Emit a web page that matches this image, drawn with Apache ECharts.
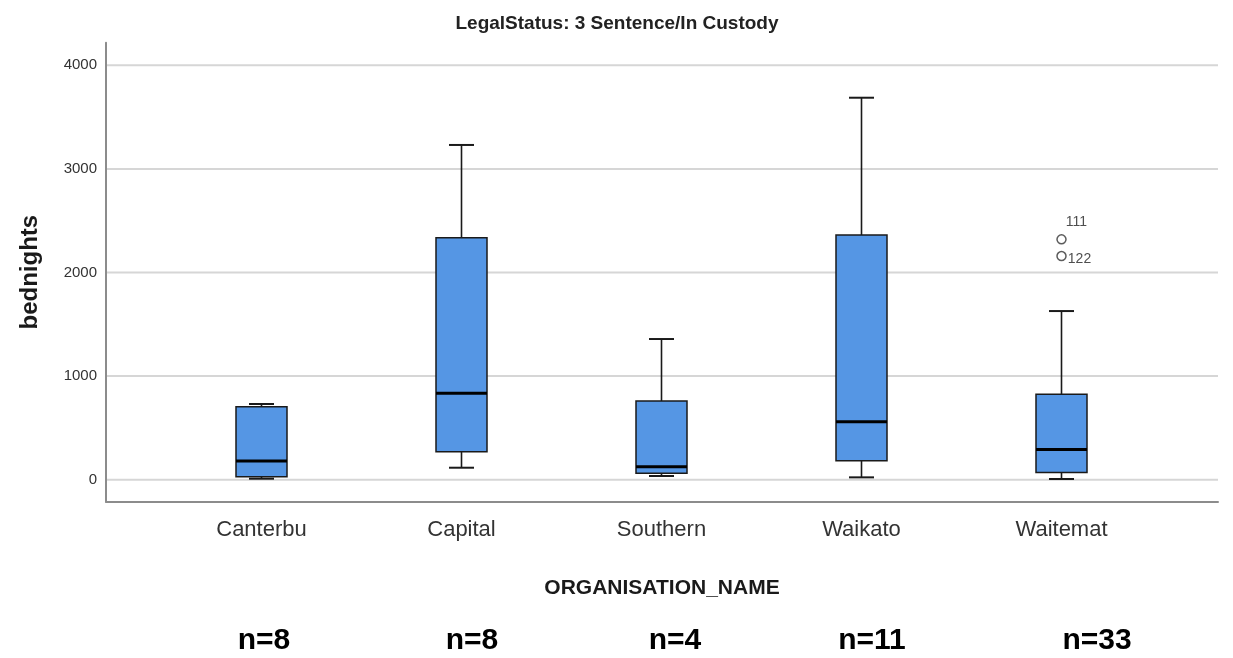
<!DOCTYPE html>
<html><head><meta charset="utf-8">
<script src="https://cdn.jsdelivr.net/npm/echarts@6/dist/echarts.min.js"></script>
<style>html,body{margin:0;padding:0;background:#fff}#c{width:1233px;height:658px}</style>
</head><body><div id="c"></div>
<script>
// ---- data ----
const categories = ['Canterbu', 'Capital', 'Southern', 'Waikato', 'Waitemat'];
const lowWhisker  = [10, 116, 36, 23, 7];
const q1          = [29, 270, 62, 183, 71];
const median      = [180, 834, 126, 560, 293];
const q3          = [705, 2336, 760, 2362, 824];
const highWhisker = [731, 3231, 1358, 3687, 1628];
const outlierCategory = ['Waitemat', 'Waitemat'];
const outlierValues   = [2320, 2159];
const outlierIds      = ['111', '122'];
const yTicks = [0, 1000, 2000, 3000, 4000];
const counts = [8, 8, 4, 11, 33];

// ---- layout (not data) ----
const Y_MIN = -212, Y_MAX = 4218;
const FRAME = {left: 106, right: 15, top: 42.7, bottom: 156.3};
const BAND = {left: 161.5, right: 71.5, top: 42.7, bottom: 156.3};
const countLabelX = [264, 472, 675, 872, 1097];
const countLabelY = 641;
const outlierLabelOffset = [[15, -17], [18, 3]];
const FONT = "'Liberation Sans', Arial, sans-serif";

const boxData = categories.map((c, i) => [i, lowWhisker[i], q1[i], median[i], q3[i], highWhisker[i]]);

const chart = echarts.init(document.getElementById('c'), null, {renderer: 'canvas'});
chart.setOption({
  animation: false,
  backgroundColor: '#fff',
  title: {
    text: 'LegalStatus: 3 Sentence/In Custody',
    left: 612, top: 9, textAlign: 'center',
    textStyle: {fontFamily: FONT, fontSize: 19, fontWeight: 'bold', color: '#222'}
  },
  grid: [
    Object.assign({containLabel: false}, FRAME),
    Object.assign({containLabel: false}, BAND)
  ],
  xAxis: [
    {
      type: 'value', gridIndex: 0, min: 0, max: 1, z: 2,
      axisLine: {show: true, onZero: false, lineStyle: {color: '#8c8c8c', width: 2}},
      axisTick: {show: false}, axisLabel: {show: false}, splitLine: {show: false},
      name: 'ORGANISATION_NAME', nameLocation: 'middle', nameGap: 76,
      nameTextStyle: {fontFamily: FONT, fontSize: 21, fontWeight: 'bold', color: '#1a1a1a'}
    },
    {
      type: 'category', gridIndex: 1, data: categories, boundaryGap: true,
      axisLine: {show: false, onZero: false}, axisTick: {show: false}, splitLine: {show: false},
      axisLabel: {fontFamily: FONT, fontSize: 22, color: '#333', margin: 17}
    }
  ],
  yAxis: [
    {
      type: 'value', gridIndex: 0, min: Y_MIN, max: Y_MAX, z: 2,
      axisLine: {show: true, onZero: false, lineStyle: {color: '#8c8c8c', width: 2}},
      axisTick: {show: false}, splitLine: {show: false},
      axisLabel: {customValues: yTicks, formatter: v => String(v),
        fontFamily: FONT, fontSize: 15, color: '#333', margin: 9},
      name: 'bednights', nameLocation: 'middle', nameGap: 64,
      nameTextStyle: {fontFamily: FONT, fontSize: 24, fontWeight: 'bold', color: '#1a1a1a'}
    },
    {
      type: 'value', gridIndex: 1, min: Y_MIN, max: Y_MAX, show: false,
      splitLine: {show: false}
    }
  ],
  series: [
    {
      type: 'custom', xAxisIndex: 0, yAxisIndex: 0, z: 1, silent: true,
      data: yTicks.map(v => [0, v]),
      encode: {x: 0, y: 1},
      renderItem: function (params, api) {
        const v = api.value(1);
        const p0 = api.coord([0, v]);
        const p1 = api.coord([1, v]);
        return {type: 'line', shape: {x1: p0[0] + 1, y1: p0[1], x2: p1[0], y2: p1[1]},
          style: {stroke: '#d6d6d6', lineWidth: 2}};
      }
    },
    {
      type: 'custom', xAxisIndex: 1, yAxisIndex: 1, z: 3, silent: true,
      data: boxData,
      encode: {x: 0, y: [1, 2, 3, 4, 5]},
      renderItem: function (params, api) {
        const x = api.value(0);
        const lo = api.coord([x, api.value(1)]);
        const b1 = api.coord([x, api.value(2)]);
        const md = api.coord([x, api.value(3)]);
        const b3 = api.coord([x, api.value(4)]);
        const hi = api.coord([x, api.value(5)]);
        const band = api.size([1, 0])[0];
        const bw = band * 0.255, cw = band * 0.125;
        const cx = lo[0];
        const ws = {stroke: '#1a1a1a', lineWidth: 1.6};
        return {type: 'group', children: [
          {type: 'line', shape: {x1: cx, y1: hi[1], x2: cx, y2: b3[1]}, style: ws},
          {type: 'line', shape: {x1: cx, y1: b1[1], x2: cx, y2: lo[1]}, style: ws},
          {type: 'line', shape: {x1: cx - cw / 2, y1: hi[1], x2: cx + cw / 2, y2: hi[1]}, style: {stroke: '#1a1a1a', lineWidth: 2}},
          {type: 'line', shape: {x1: cx - cw / 2, y1: lo[1], x2: cx + cw / 2, y2: lo[1]}, style: {stroke: '#1a1a1a', lineWidth: 2}},
          {type: 'rect', shape: {x: cx - bw / 2, y: b3[1], width: bw, height: b1[1] - b3[1]},
            style: {fill: '#5596e4', stroke: '#1a1a1a', lineWidth: 1.5}},
          {type: 'line', shape: {x1: cx - bw / 2, y1: md[1], x2: cx + bw / 2, y2: md[1]},
            style: {stroke: '#000', lineWidth: 3}}
        ]};
      }
    },
    {
      type: 'scatter', xAxisIndex: 1, yAxisIndex: 1, z: 4, silent: true,
      symbol: 'circle', symbolSize: 9,
      itemStyle: {color: 'rgba(255,255,255,0)', borderColor: '#333', borderWidth: 1.5},
      data: outlierValues.map((v, i) => ({
        value: [outlierCategory[i], v],
        label: {show: true, formatter: outlierIds[i], position: 'inside',
          offset: outlierLabelOffset[i], fontFamily: FONT, fontSize: 14, color: '#222'}
      }))
    }
  ],
  graphic: counts.map((n, i) => ({
    type: 'text', x: countLabelX[i], y: countLabelY, silent: true,
    style: {text: 'n=' + n, fill: '#000', fontFamily: FONT, fontSize: 30, fontWeight: 'bold',
      align: 'center', verticalAlign: 'middle', textAlign: 'center', textVerticalAlign: 'middle'}
  }))
});
</script></body></html>
